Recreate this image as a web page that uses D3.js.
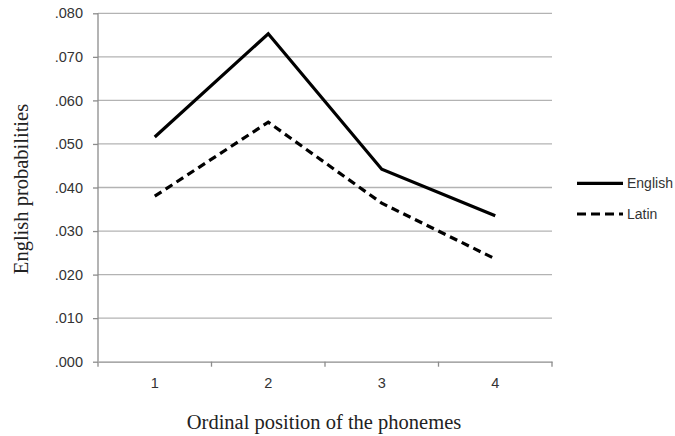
<!DOCTYPE html>
<html>
<head>
<meta charset="utf-8">
<script src="https://cdn.jsdelivr.net/npm/d3@7"></script>
<style>
  html, body { margin: 0; padding: 0; background: #fff; }
  svg { display: block; }
</style>
</head>
<body>
<script>
const categories = ["1", "2", "3", "4"];
const englishValues = [0.0516, 0.0753, 0.0442, 0.0335];
const latinValues = [0.0380, 0.0550, 0.0364, 0.0236];
const yTicks = [0, 0.01, 0.02, 0.03, 0.04, 0.05, 0.06, 0.07, 0.08];
const seriesNames = ["English", "Latin"];

const W = 675, H = 436;
const plotLeft = 98, plotRight = 552, plotTop = 13.3, plotBottom = 361.7;
const sansFont = "Liberation Sans, Arial, sans-serif";
const serifFont = "Liberation Serif, Times New Roman, serif";

const svg = d3.select("body").append("svg").attr("width", W).attr("height", H);

const x = d3.scaleBand().domain(categories).range([plotLeft, plotRight]).padding(0);
const y = d3.scaleLinear().domain([0, 0.08]).range([plotBottom, plotTop]);

// gridlines
svg.append("g").selectAll("line").data(yTicks.filter(d => d > 0)).join("line")
  .attr("x1", plotLeft).attr("x2", plotRight)
  .attr("y1", d => y(d)).attr("y2", d => y(d))
  .attr("stroke", "#b3b3b3").attr("stroke-width", 1.3);

// y axis
const yAxis = d3.axisLeft(y).tickValues(yTicks).tickSize(5).tickPadding(10)
  .tickFormat(d => d3.format(".3f")(d).replace(/^0/, ""));
const gy = svg.append("g").attr("transform", `translate(${plotLeft},0)`).call(yAxis);
gy.select(".domain").attr("stroke", "#8c8c8c").attr("stroke-width", 1.3).attr("d", `M0,${plotBottom}V${plotTop}`);
gy.selectAll(".tick line").attr("stroke", "#8c8c8c").attr("stroke-width", 1.3);
gy.selectAll(".tick text").attr("font-family", sansFont)
  .attr("font-size", 14.5).attr("fill", "#333");

// x axis
const xAxis = d3.axisBottom(x).tickSize(0).tickPadding(16);
const gx = svg.append("g").attr("transform", `translate(0,${plotBottom})`).call(xAxis);
gx.select(".domain").attr("stroke", "#8c8c8c").attr("stroke-width", 1.3);
gx.selectAll(".tick text").attr("font-family", sansFont)
  .attr("font-size", 14.5).attr("fill", "#333");
// boundary ticks
const boundaries = categories.map(c => x(c)).concat([x(categories[categories.length - 1]) + x.bandwidth()]);
gx.append("g").selectAll("line").data(boundaries).join("line")
  .attr("x1", d => d).attr("x2", d => d).attr("y1", 0).attr("y2", 5)
  .attr("stroke", "#8c8c8c").attr("stroke-width", 1.3);

// lines
const line = d3.line().x((d, i) => x(categories[i]) + x.bandwidth() / 2).y(d => y(d));
svg.append("path").datum(englishValues).attr("d", line)
  .attr("fill", "none").attr("stroke", "#000").attr("stroke-width", 3.2).attr("stroke-linejoin", "miter");
svg.append("path").datum(latinValues).attr("d", line)
  .attr("fill", "none").attr("stroke", "#000").attr("stroke-width", 3.2).attr("stroke-dasharray", "8,5");

// legend
const legendY = [183.3, 214];
const lg = svg.append("g");
seriesNames.forEach((name, i) => {
  lg.append("line").attr("x1", 577).attr("x2", 623).attr("y1", legendY[i]).attr("y2", legendY[i])
    .attr("stroke", "#000").attr("stroke-width", 3.2)
    .attr("stroke-dasharray", i === 1 ? "9,5" : null);
  lg.append("text").attr("x", 627).attr("y", legendY[i] + 5)
    .attr("font-family", sansFont).attr("font-size", 14).attr("fill", "#333")
    .text(name);
});

// axis titles
svg.append("text").attr("x", 324).attr("y", 429).attr("text-anchor", "middle")
  .attr("font-family", serifFont).attr("font-size", 20.5).attr("fill", "#222")
  .text("Ordinal position of the phonemes");
svg.append("text").attr("transform", "translate(28,189) rotate(-90)").attr("text-anchor", "middle")
  .attr("font-family", serifFont).attr("font-size", 20.5).attr("fill", "#222")
  .text("English probabilities");
</script>
</body>
</html>
